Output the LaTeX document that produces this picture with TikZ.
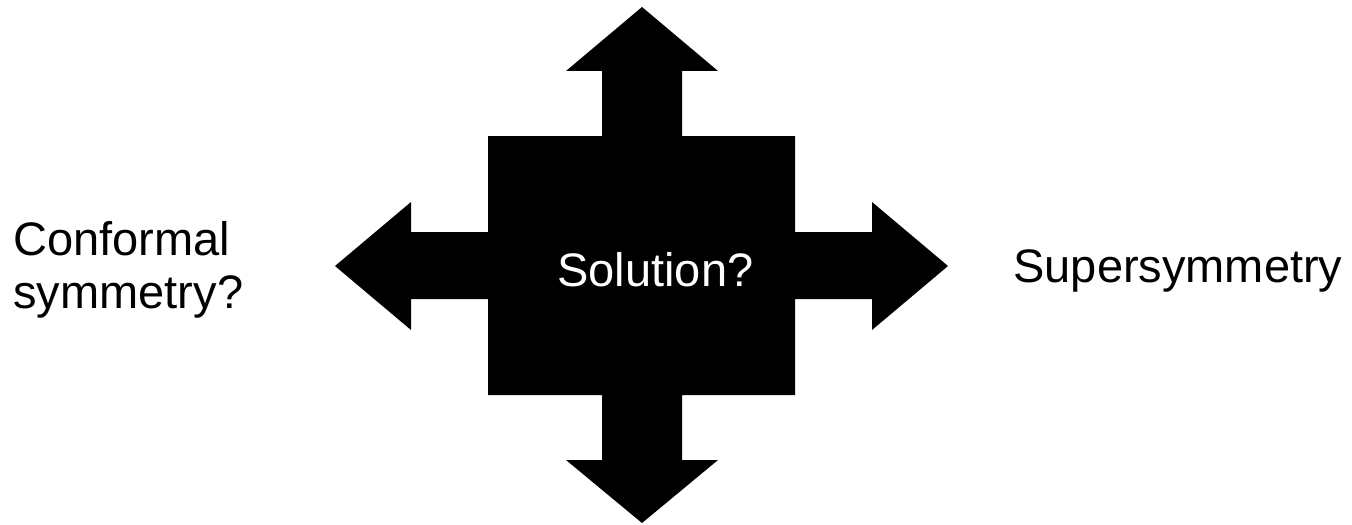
\documentclass[tikz,border=0pt]{standalone}
\usepackage{fontspec}
\setmainfont{Liberation Sans}
\usepackage{tikz}
\usetikzlibrary{positioning}

\begin{document}
\begin{tikzpicture}[
    x=0.5pt, y=-0.5pt,
    cross/.style={fill=black, draw=none},
    txt/.style={font=\fontsize{23.5}{26.5}\selectfont, inner sep=0pt},
]
\useasboundingbox (0, 0) rectangle (1352, 524);
\fill[cross] (642, 7) -- (718, 71) -- (682, 71) -- (682, 136) -- (795, 136)
  -- (795, 232) -- (872, 232) -- (872, 202) -- (948, 266) -- (872, 330)
  -- (872, 299) -- (795, 299) -- (795, 395) -- (682, 395) -- (682, 460)
  -- (718, 460) -- (642, 523) -- (566, 460) -- (602, 460) -- (602, 395)
  -- (488, 395) -- (488, 299) -- (411, 299) -- (411, 330) -- (335, 266)
  -- (411, 202) -- (411, 232) -- (488, 232) -- (488, 136) -- (602, 136)
  -- (602, 71) -- (566, 71) -- cycle;
\node[txt, white, anchor=base west] (sol) at (557, 286) {Solution?};
\node[txt, anchor=base west] (susy) at (1013, 282) {Supersymmetry};
\node[txt, anchor=base west, align=left] (conf) at (13, 308) {Conformal\\symmetry?};
\end{tikzpicture}
\end{document}
